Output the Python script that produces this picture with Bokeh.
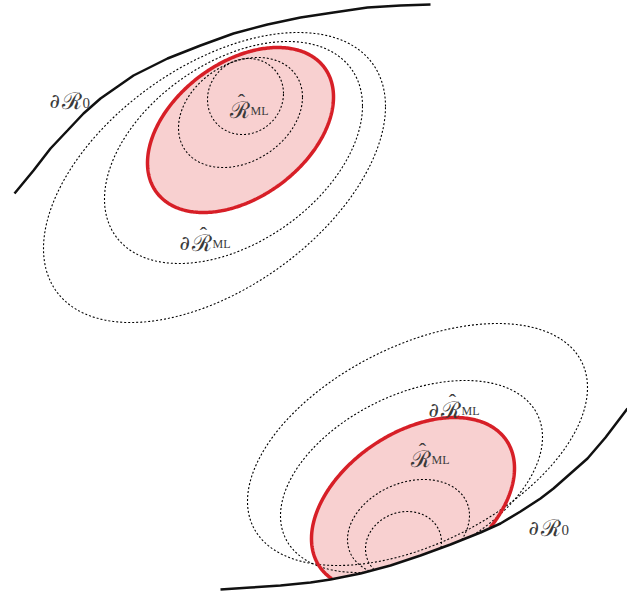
import numpy as np
from bokeh.plotting import figure
from bokeh.models import Range1d
from bokeh.core.properties import value
from bokeh.embed import file_html
from bokeh.resources import INLINE

# ---- boundary curves (screen-pixel coordinates, y grows downward) ----
top_boundary_x = [14, 33, 50, 67, 83, 100, 133, 167, 200, 233, 267, 300, 333, 367, 400, 430]
top_boundary_y = [193, 170, 148, 130, 113, 98, 75, 58, 45, 33, 24, 17, 12, 7, 5, 4]

bottom_boundary_x = [220, 250, 280, 310, 330, 360, 390, 420, 450, 480, 500, 520, 540, 553, 570, 587, 605, 627]
bottom_boundary_y = [589, 587, 585, 582, 579, 573, 565, 555, 544, 532, 523, 511, 498, 488, 473, 458, 437, 408]

# ---- contour ellipses: centre, half-width, half-height, lean ----
top_cx = [245, 240, 233, 214]
top_cy = [96, 112, 152, 177]
top_hw = [38, 62, 129, 171]
top_hh = [38, 55, 111, 145]
top_lean = [0.08, 0.28, 0.42, 0.49]

top_ml_region = dict(cx=240, cy=129.5, hw=93, hh=82.5, lean=0.40)

bottom_cx = [403, 408, 411, 417]
bottom_cy = [545, 527, 476, 444]
bottom_hw = [38, 61, 131, 170]
bottom_hh = [34, 48, 96, 121]
bottom_lean = [0.10, 0.25, 0.41, 0.47]

bottom_ml_region = dict(cx=412.5, cy=503, hw=101.5, hh=86, lean=0.41)

# ---- labels: anchor x, baseline y, has partial sign, has hat, subscript ----
label_x = [49, 229, 179, 428, 410, 528]
label_y = [100, 109, 242, 409, 458, 527]
label_partial = [True, False, True, True, False, True]
label_hat = [False, True, True, True, True, False]
label_sub = ["0", "ML", "ML", "ML", "ML", "0"]

RED = "#d71f27"
PINK = "#f8d0d0"
INK = "#3a3a3a"


def ellipse(cx, cy, hw, hh, lean, n=400, start=0.0):
    t = np.linspace(start, start + 2 * np.pi, n)
    phi = np.arccos(lean)
    return cx + hw * np.cos(t), cy - hh * np.cos(t - phi)


p = figure(width=627, height=597, output_backend="svg", toolbar_location=None,
           x_range=Range1d(0, 627), y_range=Range1d(597, 0), min_border=0)
p.axis.visible = False
p.grid.visible = False
p.outline_line_color = None
p.background_fill_color = "white"

# ---------------- upper panel ----------------
ex, ey = ellipse(**top_ml_region)
p.patch(ex, ey, fill_color=PINK, line_color=None)
for cx, cy, hw, hh, ln in zip(top_cx, top_cy, top_hw, top_hh, top_lean):
    x, y = ellipse(cx, cy, hw, hh, ln)
    p.line(x, y, line_color="black", line_width=1.1, line_dash="2 2")
p.line(ex, ey, line_color=RED, line_width=3.5)
p.line(top_boundary_x, top_boundary_y, line_color="#111111", line_width=2.5)

# ---------------- lower panel ----------------
bx = np.array(bottom_boundary_x, dtype=float)
by = np.array(bottom_boundary_y, dtype=float)


def boundary_at(x):
    return np.interp(x, bx, by, left=np.inf, right=np.inf)


ex, ey = ellipse(**bottom_ml_region, start=-np.pi / 2)
lim = boundary_at(ex)
p.patch(ex, np.minimum(ey, lim), fill_color=PINK, line_color=None)
for cx, cy, hw, hh, ln in zip(bottom_cx, bottom_cy, bottom_hw, bottom_hh, bottom_lean):
    x, y = ellipse(cx, cy, hw, hh, ln, start=-np.pi / 2)
    y = np.where(y > boundary_at(x), np.nan, y)
    p.line(x, y, line_color="black", line_width=1.1, line_dash="2 2")
ry = np.where(ey > lim, np.nan, ey)
p.line(ex, ry, line_color=RED, line_width=3.5)
p.line(bottom_boundary_x, bottom_boundary_y, line_color="#111111", line_width=2.5)

# ---------------- labels ----------------
SCRIPT_FONT = value("DejaVu Serif")
ROMAN_FONT = value("Liberation Serif")


def put(x, y, s, font, size, align="left", style="normal"):
    p.text([x], [y], text=[s], text_font=font, text_font_size=size, text_font_style=style,
           text_color=INK, text_baseline="alphabetic", text_align=align)


for x, y, partial, hat, sub in zip(label_x, label_y, label_partial, label_hat, label_sub):
    rx = x
    if partial:
        put(x, y, "∂", SCRIPT_FONT, "20px", style="italic")
        rx = x + 12
    put(rx, y, "ℛ", SCRIPT_FONT, "23px")
    if hat:
        put(rx + 12, y - 8, "ˆ", ROMAN_FONT, "22px", align="center")
    if sub == "0":
        put(rx + 21, y + 2, "0", ROMAN_FONT, "15px")
    else:
        put(rx + 21, y + 1, sub, ROMAN_FONT, "12px")

open("out.html", "w").write(file_html(p, INLINE))
